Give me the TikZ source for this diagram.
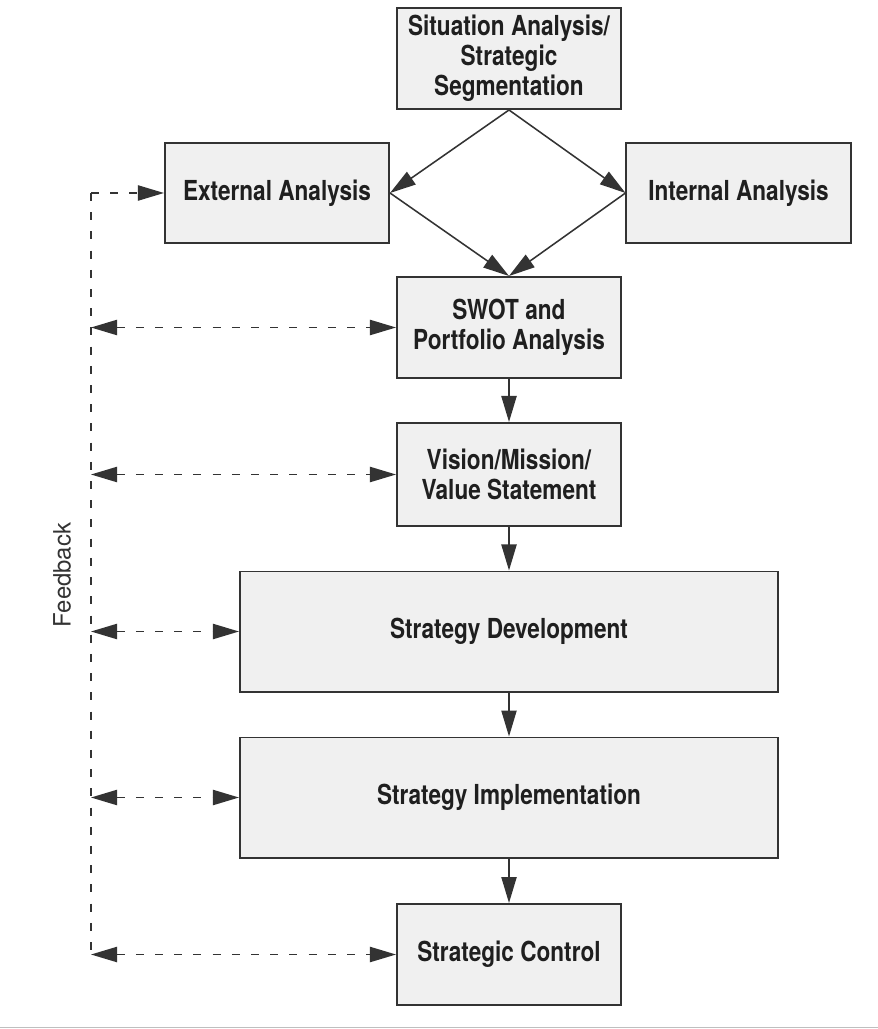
\documentclass[tikz,border=0pt]{standalone}
\usepackage{fontspec}
\newfontfamily\boxfont[FakeStretch=0.82]{TeX Gyre Heros}
\newfontfamily\fbfont{TeX Gyre Heros}
\usetikzlibrary{arrows.meta,positioning}
\tikzset{>={Triangle[length=6.5mm,width=3.8mm]}}
\colorlet{penColor}{black!80}
\colorlet{textColor}{black!88}
\colorlet{boxFill}{black!6}
\tikzset{
	box/.style={draw=penColor,line width=1.4pt,fill=boxFill,align=center,inner sep=0pt,
		minimum width=5.6cm,minimum height=2.525cm,text=textColor,
		font=\boxfont\bfseries\fontsize{19.6}{21.5}\selectfont},
	widebox/.style={box,minimum width=13.45cm,minimum height=3.0cm},
	flow/.style={->,penColor,line width=1.1pt},
	fb/.style={penColor,line width=1.1pt,dash pattern=on 2mm off 2.8mm}
}

\begin{document}
\begin{tikzpicture}[x=0.025cm,y=-0.025cm]
				\useasboundingbox (0,0) rectangle (878,1029);
				\node [box] (sit) at (509,58.5) {Situation Analysis/\\Strategic\\Segmentation};
				\node [box,minimum height=2.5cm] (ext) at (277,193) {External Analysis};
				\node [box,minimum height=2.5cm] (int) at (738.5,193) {Internal Analysis};
				\node [box] (swot) at (509,327.5) {SWOT and\\Portfolio Analysis};
				\node [box,minimum height=2.575cm] (vis) at (509,474.5) {Vision/Mission/\\Value Statement};
				\node [widebox] (dev) at (509,631.5) {Strategy Development};
				\node [widebox] (imp) at (509,797.5) {Strategy Implementation};
				\node [box] (ctl) at (509,954.5) {Strategic Control};
				
				\draw [flow] (sit.south) -- (ext.east);
				\draw [flow] (sit.south) -- (int.west);
				\draw [flow] (ext.east) -- (swot.north);
				\draw [flow] (int.west) -- (swot.north);
				\draw [flow] (swot.south) -- (vis.north);
				\draw [flow] (vis.south) -- (dev.north);
				\draw [flow] (dev.south) -- (imp.north);
				\draw [flow] (imp.south) -- (ctl.north);
				
				% feedback loop
				\coordinate (fbTop) at (91,193);
				\coordinate (fbBot) at (fbTop |- ctl.west);
				\draw [fb] (fbTop) -- (fbBot);
				\draw [fb,->] (fbTop) -- (ext.west);
				\draw [fb,<->] (fbTop |- swot.west) -- (swot.west);
				\draw [fb,<->] (fbTop |- vis.west) -- (vis.west);
				\draw [fb,<->] (fbTop |- dev.west) -- (dev.west);
				\draw [fb,<->] (fbTop |- imp.west) -- (imp.west);
				\draw [fb,<->] (fbBot) -- (ctl.west);
				\node [rotate=90,penColor,font=\fbfont\fontsize{17}{20}\selectfont] (fbLabel) at (62,575) {Feedback};
				
				\draw [black!25,line width=0.8pt] (0,1027.5) -- (878,1027.5);
\end{tikzpicture}
\end{document}
